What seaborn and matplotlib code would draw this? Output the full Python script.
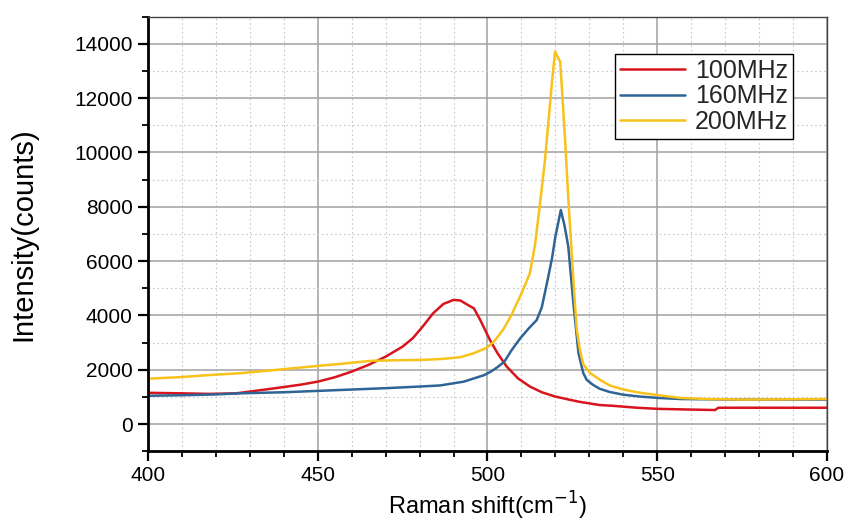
import numpy as np
import pandas as pd
import matplotlib
matplotlib.use("Agg")
import matplotlib.pyplot as plt
from matplotlib.ticker import MultipleLocator
import seaborn as sns

# ---- data ----
labels = ["100MHz", "160MHz", "200MHz"]
colors = ["#d8141e", "#2e6496", "#f7c21a"]

x_100 = [400, 410, 418, 426, 437, 445, 450, 455, 460, 465, 470, 475, 478, 481, 484, 487,
         490, 492, 494, 496, 498, 500.7, 503, 505.7, 509, 512.5, 516, 520, 524, 527, 533,
         537, 544, 550, 557, 567, 568, 580, 600]
y_100 = [1150, 1130, 1110, 1130, 1310, 1450, 1560, 1720, 1930, 2180, 2480, 2850, 3160, 3600,
         4080, 4420, 4570, 4550, 4400, 4260, 3800, 3100, 2600, 2110, 1680, 1380, 1170, 1010,
         900, 820, 700, 670, 600, 560, 540, 515, 600, 600, 600]

x_160 = [400, 410, 420, 427, 440, 450, 460, 470, 480, 486, 490, 493, 496, 499, 501, 503, 505,
         507, 509.6, 512, 514.5, 516, 517.5, 519, 520, 521.6, 522.7, 523.8, 525.3, 526.8,
         528.2, 529.2, 531, 533, 536, 540, 545, 550.5, 557, 570, 600]
y_160 = [1040, 1060, 1090, 1130, 1170, 1220, 1270, 1320, 1380, 1420, 1500, 1560, 1680, 1800,
         1930, 2100, 2300, 2700, 3150, 3500, 3830, 4300, 5180, 6100, 6900, 7880, 7300, 6530,
         4450, 2610, 1880, 1630, 1450, 1300, 1180, 1080, 1010, 960, 920, 905, 900]

x_200 = [400, 410, 420, 427, 440, 450, 458, 466, 474, 480, 486, 492, 496, 499.7, 502, 504.6,
         507, 509.6, 511, 512.5, 514, 515.5, 517, 518, 519, 519.9, 520.7, 521.4, 522.1, 522.8,
         523.8, 524.8, 525.5, 526.3, 527.2, 528.2, 530.2, 533.1, 536, 540, 545, 550.5, 556.7,
         565, 576, 600]
y_200 = [1670, 1730, 1820, 1870, 2020, 2140, 2230, 2330, 2350, 2360, 2390, 2460, 2610, 2800,
         3050, 3470, 4000, 4700, 5100, 5560, 6600, 8140, 9800, 11200, 12600, 13720, 13500,
         13350, 12000, 10590, 8300, 6300, 4900, 3470, 2740, 2200, 1880, 1630, 1420, 1270,
         1150, 1060, 960, 920, 900, 920]

x_major = [400, 450, 500, 550, 600]
y_major = [0, 2000, 4000, 6000, 8000, 10000, 12000, 14000]

df = pd.concat([
    pd.DataFrame({"x": x_100, "y": y_100, "series": labels[0]}),
    pd.DataFrame({"x": x_160, "y": y_160, "series": labels[1]}),
    pd.DataFrame({"x": x_200, "y": y_200, "series": labels[2]}),
], ignore_index=True)

sns.set_theme(style="white")
plt.rcParams["font.family"] = ["Liberation Sans", "DejaVu Sans"]

fig = plt.figure(figsize=(8.5, 5.21), dpi=100)
ax = fig.add_axes([0.174, 0.134, 0.799, 0.834])

# grid
ax.set_axisbelow(True)
ax.xaxis.set_minor_locator(MultipleLocator(10))
ax.yaxis.set_minor_locator(MultipleLocator(1000))
ax.grid(which="major", color="#a0a0a0", linewidth=1.1, linestyle="-")
ax.grid(which="minor", color="#c8c8c8", linewidth=0.8, linestyle=(0, (1.5, 2.5)))

sns.lineplot(data=df, x="x", y="y", hue="series", palette=colors, sort=False,
             estimator=None, linewidth=1.8, ax=ax)

ax.set_xlim(400, 600)
ax.set_ylim(-1000, 15000)
ax.set_xticks(x_major)
ax.set_yticks(y_major)
ax.set_xticklabels([str(v) for v in x_major])
ax.set_yticklabels([str(v) for v in y_major])

for s in ["left", "bottom"]:
    ax.spines[s].set_color("black")
    ax.spines[s].set_linewidth(2.0)
for s in ["top", "right"]:
    ax.spines[s].set_color("#444444")
    ax.spines[s].set_linewidth(1.0)

ax.tick_params(which="major", direction="out", length=7, width=1.6, color="black",
               labelsize=15, labelcolor="black", left=True, bottom=True, pad=4)
ax.tick_params(which="minor", direction="out", length=4, width=1.3, color="black",
               left=True, bottom=True)

ax.set_xlabel("Raman shift(cm$^{-1}$)", fontsize=17, color="black", va="center")
ax.xaxis.set_label_coords(0.5, -0.125)
ax.set_ylabel("Intensity(counts)", fontsize=21, color="black", va="center")
ax.yaxis.set_label_coords(-0.184, 0.5)

leg = ax.legend(loc="upper right", bbox_to_anchor=(0.95, 0.914), borderaxespad=0,
                fontsize=18, frameon=True, fancybox=False, shadow=False,
                handlelength=2.6, handletextpad=0.4, borderpad=0.2, labelspacing=0.05)
leg.get_frame().set_edgecolor("black")
leg.get_frame().set_linewidth(1.0)
leg.get_frame().set_alpha(1)
leg.set_title(None)

fig.savefig("out.png", dpi=100)
